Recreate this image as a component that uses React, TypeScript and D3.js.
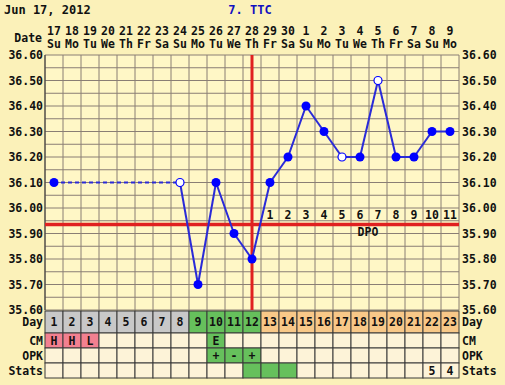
import React from "react";
import * as d3 from "d3";

const dates = ["17","18","19","20","21","22","23","24","25","26","27","28","29","30","1","2","3","4","5","6","7","8","9"];
const weekdays = ["Su","Mo","Tu","We","Th","Fr","Sa","Su","Mo","Tu","We","Th","Fr","Sa","Su","Mo","Tu","We","Th","Fr","Sa","Su","Mo"];
const cycleDays = d3.range(1, 24);
// null = missing
const temps: (number | null)[] = [36.1, null, null, null, null, null, null, 36.1, 35.7, 36.1, 35.9, 35.8, 36.1, 36.2, 36.4, 36.3, 36.2, 36.2, 36.5, 36.2, 36.2, 36.3, 36.3];
const openPoint = [false, false, false, false, false, false, false, true, false, false, false, false, false, false, false, false, true, false, true, false, false, false, false];
const dayPhase = ["g","g","g","g","g","g","g","g","f","f","f","f","l","l","l","l","l","l","l","l","l","l","l"];
const cmValues = ["H","H","L","","","","","","","E","","","","","","","","","","","","",""];
const opkValues = ["","","","","","","","","","+","-","+","","","","","","","","","","",""];
const statsValues = ["","","","","","","","","","","","","","","","","","","","","","5","4"];
const statsGreen = [false,false,false,false,false,false,false,false,false,false,false,true,true,true,false,false,false,false,false,false,false,false,false];
const yTicks = [36.6, 36.5, 36.4, 36.3, 36.2, 36.1, 36.0, 35.9, 35.8, 35.7, 35.6];
const dpoLabels = ["1","2","3","4","5","6","7","8","9","10","11"];
const coverLine = 35.935;
const ovulationDay = 12;

export default function App() {
  const W = 505, H = 385;
  const left = 45, right = 459, top = 55, bottom = 310;
  const x = d3.scaleBand<number>().domain(d3.range(23)).range([left, right]).padding(0);
  const bw = x.bandwidth();
  const cx = (i: number) => (x(i) as number) + bw / 2;
  const y = d3.scaleLinear().domain([35.6, 36.6]).range([bottom, top]);
  const font = "'DejaVu Sans Mono', monospace";
  const gridColor = "#8a7e74";
  const phaseColor: Record<string, string> = { g: "#c8c8c8", f: "#66c05c", l: "#f8c888" };

  const hLines = d3.range(0, 21).map((k) => 35.6 + k * 0.05);

  // line segments
  const pts = temps.map((t, i) => ({ t, i })).filter((p) => p.t !== null) as { t: number; i: number }[];
  const segs: { a: { t: number; i: number }; b: { t: number; i: number }; dashed: boolean }[] = [];
  for (let k = 1; k < pts.length; k++) {
    segs.push({ a: pts[k - 1], b: pts[k], dashed: pts[k].i - pts[k - 1].i > 1 });
  }

  const rowDay = [311, 333], rowCM = [333, 348], rowOPK = [348, 363], rowStats = [363, 378];
  const tfs = 11.5;

  const rowCells = (
    r: number[],
    fill: (i: number) => string,
    text: (i: number) => string,
    key: string
  ) =>
    d3.range(23).map((i) => (
      <g key={key + i}>
        <rect x={x(i)} y={r[0]} width={bw} height={r[1] - r[0]} fill={fill(i)} stroke="#3a3a3a" strokeWidth={1} />
        {text(i) && (
          <text x={cx(i)} y={(r[0] + r[1]) / 2 + 4} textAnchor="middle" fontFamily={font} fontWeight="bold" fontSize={tfs} fill="#111">
            {text(i)}
          </text>
        )}
      </g>
    ));

  return (
    <svg width={W} height={H} style={{ position: "absolute", left: 0, top: 0 }}>
      <rect x={0} y={0} width={W} height={H} fill="#fbf1b9" />
      <text x={4} y={14} fontFamily={font} fontWeight="bold" fontSize={12} fill="#111">Jun 17, 2012</text>
      <text x={250} y={14} textAnchor="middle" fontFamily={font} fontWeight="bold" fontSize={12} fill="#1010c0">7. TTC</text>
      <text x={42} y={42} textAnchor="end" fontFamily={font} fontWeight="bold" fontSize={tfs} fill="#111">Date</text>
      {dates.map((d, i) => (
        <text key={"d" + i} x={cx(i)} y={35} textAnchor="middle" fontFamily={font} fontWeight="bold" fontSize={tfs} fill="#111">{d}</text>
      ))}
      {weekdays.map((d, i) => (
        <text key={"w" + i} x={cx(i)} y={48} textAnchor="middle" fontFamily={font} fontWeight="bold" fontSize={tfs} fill="#111">{d}</text>
      ))}
      <rect x={left} y={top} width={right - left} height={bottom - top} fill="#fff7c6" />
      {hLines.map((v, k) => (
        <line key={"h" + k} x1={left} x2={right} y1={y(v)} y2={y(v)} stroke={gridColor} strokeWidth={1} />
      ))}
      {d3.range(24).map((i) => {
        const xx = i < 23 ? (x(i) as number) : right;
        return <line key={"v" + i} x1={xx} x2={xx} y1={top} y2={bottom} stroke={gridColor} strokeWidth={1} />;
      })}
      <line x1={left} x2={left} y1={top} y2={bottom} stroke="#333" strokeWidth={1} />
      {yTicks.map((v) => (
        <g key={"yt" + v}>
          <text x={43} y={y(v) + 4} textAnchor="end" fontFamily={font} fontWeight="bold" fontSize={tfs} fill="#111">{v.toFixed(2)}</text>
          <text x={462} y={y(v) + 4} textAnchor="start" fontFamily={font} fontWeight="bold" fontSize={tfs} fill="#111">{v.toFixed(2)}</text>
        </g>
      ))}
      {/* cover line */}
      <line x1={left} x2={right} y1={y(coverLine)} y2={y(coverLine)} stroke="#e02020" strokeWidth={3.5} />
      {/* ovulation line */}
      <line x1={cx(ovulationDay - 1)} x2={cx(ovulationDay - 1)} y1={top} y2={bottom} stroke="#e02020" strokeWidth={3} />
      {dpoLabels.map((l, k) => (
        <text key={"dpo" + k} x={cx(ovulationDay + k)} y={219} textAnchor="middle" fontFamily={font} fontWeight="bold" fontSize={tfs} fill="#111">{l}</text>
      ))}
      <text x={368} y={236} textAnchor="middle" fontFamily={font} fontWeight="bold" fontSize={tfs} fill="#111">DPO</text>
      {segs.map((s, k) => (
        <line key={"s" + k} x1={cx(s.a.i)} y1={y(s.a.t)} x2={cx(s.b.i)} y2={y(s.b.t)} stroke="#2a2ad8" strokeWidth={2} strokeDasharray={s.dashed ? "4,3" : undefined} />
      ))}
      {pts.map((p) => (
        <circle key={"p" + p.i} cx={cx(p.i)} cy={y(p.t)} r={openPoint[p.i] ? 4 : 4.5} fill={openPoint[p.i] ? "#ffffff" : "#0000ff"} stroke="#0000ff" strokeWidth={openPoint[p.i] ? 1.2 : 0} />
      ))}
      {/* table */}
      {rowCells(rowDay, (i) => phaseColor[dayPhase[i]], (i) => String(cycleDays[i]), "day")}
      {rowCells(rowCM, (i) => (cmValues[i] === "H" || cmValues[i] === "L" ? "#f28090" : cmValues[i] === "E" ? "#66c05c" : "#fdf3d8"), (i) => cmValues[i], "cm")}
      {rowCells(rowOPK, (i) => (opkValues[i] ? "#66c05c" : "#fdf3d8"), (i) => opkValues[i], "opk")}
      {rowCells(rowStats, (i) => (statsGreen[i] ? "#66c05c" : "#fdf3d8"), (i) => statsValues[i], "st")}
      {[["Day", rowDay], ["CM", rowCM], ["OPK", rowOPK], ["Stats", rowStats]].map(([l, r]: any) => (
        <g key={"lab" + l}>
          <text x={43} y={(r[0] + r[1]) / 2 + 4} textAnchor="end" fontFamily={font} fontWeight="bold" fontSize={tfs} fill="#111">{l}</text>
          <text x={462} y={(r[0] + r[1]) / 2 + 4} textAnchor="start" fontFamily={font} fontWeight="bold" fontSize={tfs} fill="#111">{l}</text>
        </g>
      ))}
    </svg>
  );
}
